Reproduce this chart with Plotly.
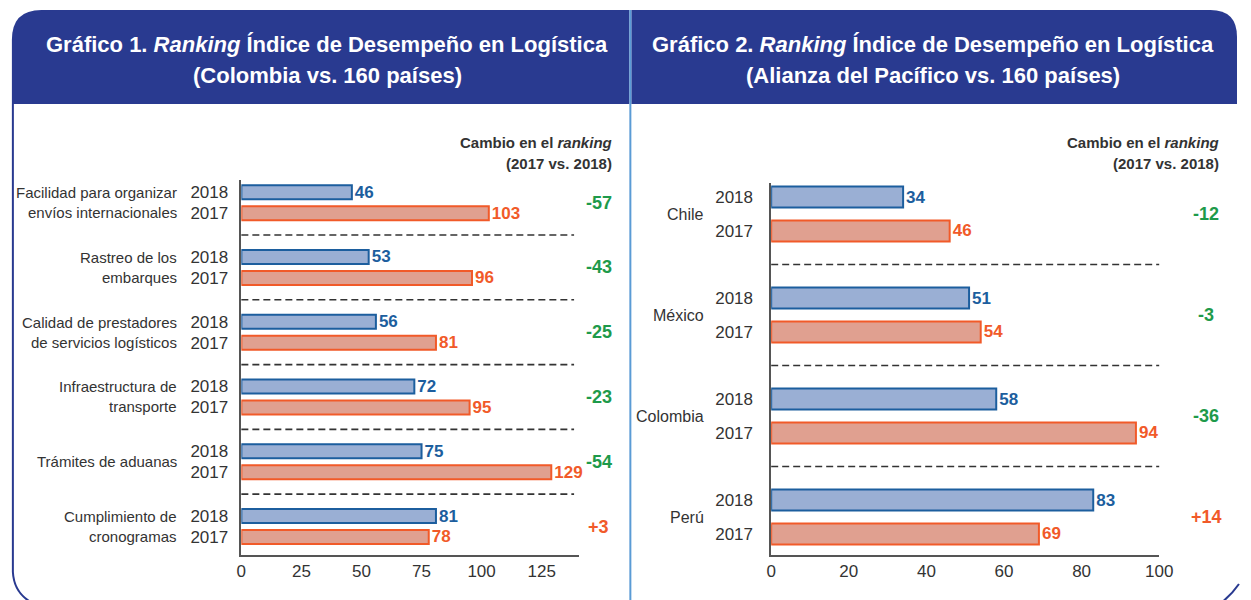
import plotly.graph_objects as go

W, H = 1251, 600

# ---------------- data ----------------
left_categories = ["Facilidad para organizar<br>envíos internacionales",
                   "Rastreo de los<br>embarques",
                   "Calidad de prestadores<br>de servicios logísticos",
                   "Infraestructura de<br>transporte",
                   "Trámites de aduanas",
                   "Cumplimiento de<br>cronogramas"]
left_2018 = [46, 53, 56, 72, 75, 81]
left_2017 = [103, 96, 81, 95, 129, 78]
left_change = ["-57", "-43", "-25", "-23", "-54", "+3"]

right_categories = ["Chile", "México", "Colombia", "Perú"]
right_2018 = [34, 51, 58, 83]
right_2017 = [46, 54, 94, 69]
right_change = ["-12", "-3", "-36", "+14"]

years = ["2018", "2017"]
left_ticks = [0, 25, 50, 75, 100, 125]
right_ticks = [0, 20, 40, 60, 80, 100]

title1 = ["<b>Gráfico 1. <i>Ranking</i> Índice de Desempeño en Logística</b>",
          "<b>(Colombia vs. 160 países)</b>"]
title2 = ["<b>Gráfico 2. <i>Ranking</i> Índice de Desempeño en Logística</b>",
          "<b>(Alianza del Pacífico vs. 160 países)</b>"]
change_title = ["<b>Cambio en el <i>ranking</i></b>", "<b>(2017 vs. 2018)</b>"]

# ---------------- styles ----------------
FONT = "Liberation Sans, Arial, sans-serif"
HEADER = "#293a90"
DIVIDER = "#5a9bd5"
TXT = "#333333"
C18_FILL, C18_LINE = "#9aafd4", "#1c5e9e"
C17_FILL, C17_LINE = "#e0a090", "#f15a29"
GREEN = "#1e9a4a"
S_HEAD, S_LAB, S_TICK, S_VAL, S_CHG, S_CT = 22, 15, 17, 17, 18, 15


def px(x):
    return x / W


def py(y):
    return 1 - y / H


fig = go.Figure()

# left: group spacing ~64.8px ; right: ~101px
L_OFF, L_W = 0.162, 0.216
R_OFF, R_W = 0.168, 0.208

nl = len(left_categories)
nr = len(right_categories)


def bars(yvals, xvals, width, fill, line, xa, ya):
    return go.Bar(
        y=yvals, x=xvals, orientation="h", width=width,
        marker=dict(color=fill, line=dict(color=line, width=2)),
        text=[str(v) for v in xvals], textposition="outside", constraintext="none",
        outsidetextfont=dict(family=FONT, size=S_VAL, color=line),
        texttemplate="<b>%{text}</b>", cliponaxis=False, xaxis=xa, yaxis=ya,
        showlegend=False, hoverinfo="skip")


fig.add_trace(bars([i - L_OFF for i in range(nl)], left_2018, L_W, C18_FILL, C18_LINE, "x", "y"))
fig.add_trace(bars([i + L_OFF for i in range(nl)], left_2017, L_W, C17_FILL, C17_LINE, "x", "y"))
fig.add_trace(bars([i - R_OFF for i in range(nr)], right_2018, R_W, C18_FILL, C18_LINE, "x2", "y2"))
fig.add_trace(bars([i + R_OFF for i in range(nr)], right_2017, R_W, C17_FILL, C17_LINE, "x2", "y2"))

left_tickvals, left_ticktext = [], []
for i in range(nl):
    left_tickvals += [i - L_OFF, i + L_OFF]
    left_ticktext += years
right_tickvals, right_ticktext = [], []
for i in range(nr):
    right_tickvals += [i - R_OFF, i + R_OFF]
    right_ticktext += years

axis_common = dict(showgrid=False, zeroline=False, showline=True, linecolor="#555555",
                   linewidth=1.5, ticks="", tickfont=dict(family=FONT, size=S_TICK, color=TXT),
                   fixedrange=True)

fig.update_layout(
    width=W, height=H, autosize=False, margin=dict(l=0, r=0, t=0, b=0),
    paper_bgcolor="white", plot_bgcolor="rgba(0,0,0,0)",
    barmode="overlay", font=dict(family=FONT, color=TXT),
    xaxis=dict(domain=[px(240), px(583)], range=[0, 140.6], anchor="y",
               tickvals=left_ticks, **axis_common),
    yaxis=dict(domain=[py(555), py(180)], range=[nl - 1 + 0.44, -0.35], anchor="x",
               tickvals=left_tickvals, ticktext=left_ticktext, ticklabelstandoff=8,
               **axis_common),
    xaxis2=dict(domain=[px(778), px(1172)], range=[0, 100], anchor="y2",
                tickvals=right_ticks, **axis_common),
    yaxis2=dict(domain=[py(555), py(183)], range=[nr - 1 + 0.376, -0.307], anchor="x2",
                tickvals=right_tickvals, ticktext=right_ticktext, ticklabelstandoff=13,
                **axis_common),
)

shapes = []
# headers
shapes.append(dict(type="path", xref="paper", yref="paper", layer="below",
                   path=f"M {px(7)},{py(104)} L {px(7)},{py(40)} Q {px(7)},{py(10)} {px(37)},{py(10)} "
                        f"L {px(634)},{py(10)} L {px(634)},{py(104)} Z",
                   fillcolor=HEADER, line=dict(width=0)))
shapes.append(dict(type="path", xref="paper", yref="paper", layer="below",
                   path=f"M {px(636)},{py(10)} L {px(1224)},{py(10)} Q {px(1251)},{py(10)} {px(1251)},{py(37)} "
                        f"L {px(1251)},{py(104)} L {px(636)},{py(104)} Z",
                   fillcolor=HEADER, line=dict(width=0)))
# panel borders
shapes.append(dict(type="path", xref="paper", yref="paper", layer="below",
                   path=f"M {px(8)},{py(104)} L {px(8)},{py(572)} Q {px(9)},{py(592)} {px(26)},{py(602)}",
                   line=dict(color=HEADER, width=2)))
shapes.append(dict(type="path", xref="paper", yref="paper", layer="below",
                   path=f"M {px(1236)},{py(602)} Q {px(1246)},{py(594)} {px(1253)},{py(584)}",
                   line=dict(color=HEADER, width=2)))
shapes.append(dict(type="line", xref="paper", yref="paper", x0=px(635), x1=px(635),
                   y0=py(10), y1=py(600), line=dict(color=DIVIDER, width=2)))
# dashed separators
for i in range(nl - 1):
    shapes.append(dict(type="line", xref="x domain", yref="y", x0=0, x1=0.985,
                       y0=i + 0.5, y1=i + 0.5, line=dict(color="#333333", width=1.6, dash="7px,4px")))
for i in range(nr - 1):
    shapes.append(dict(type="line", xref="x2 domain", yref="y2", x0=0, x1=1,
                       y0=i + 0.5, y1=i + 0.5, line=dict(color="#333333", width=1.6, dash="7px,4px")))
fig.update_layout(shapes=shapes)

ann = []
# header titles
for cx, lines in [(327, title1), (942, title2)]:
    for k, t in enumerate(lines):
        ann.append(dict(xref="paper", yref="paper", x=px(cx), y=py(45 + 30 * k), text=t,
                        showarrow=False, xanchor="center", yanchor="middle",
                        font=dict(family=FONT, size=S_HEAD, color="white")))
# change titles
for rx in [618, 1235]:
    for k, t in enumerate(change_title):
        ann.append(dict(xref="paper", yref="paper", x=px(rx), y=py(143 + 20 * k), text=t,
                        showarrow=False, xanchor="right", yanchor="middle",
                        font=dict(family=FONT, size=S_CT, color=TXT)))
# category labels
for i, cat in enumerate(left_categories):
    parts = cat.split("<br>")
    n = len(parts)
    for k, p in enumerate(parts):
        ann.append(dict(xref="paper", yref="y", x=px(177), y=i, text=p, showarrow=False,
                        xanchor="right", yanchor="middle", yshift=-(k - (n - 1) / 2) * 20,
                        font=dict(family=FONT, size=S_LAB, color=TXT)))
for i, cat in enumerate(right_categories):
    ann.append(dict(xref="paper", yref="y2", x=px(712), y=i, text=cat, showarrow=False,
                    xanchor="right", yanchor="middle", font=dict(family=FONT, size=S_LAB + 1, color=TXT)))
# change values
for i, c in enumerate(left_change):
    ann.append(dict(xref="paper", yref="y", x=px(603), y=i, text=f"<b>{c}</b>", showarrow=False,
                    xanchor="center", yanchor="middle",
                    font=dict(family=FONT, size=S_CHG, color=C17_LINE if c.startswith("+") else GREEN)))
for i, c in enumerate(right_change):
    ann.append(dict(xref="paper", yref="y2", x=px(1220), y=i, text=f"<b>{c}</b>", showarrow=False,
                    xanchor="center", yanchor="middle",
                    font=dict(family=FONT, size=S_CHG, color=C17_LINE if c.startswith("+") else GREEN)))
fig.update_layout(annotations=ann)

post = (
    "document.documentElement.style.overflow='hidden';"
    "document.body.style.margin='0px';document.body.style.overflow='hidden';"
)

fig.write_html(
    "out.html",
    config={"displayModeBar": False, "responsive": False},
    post_script=post,
)
